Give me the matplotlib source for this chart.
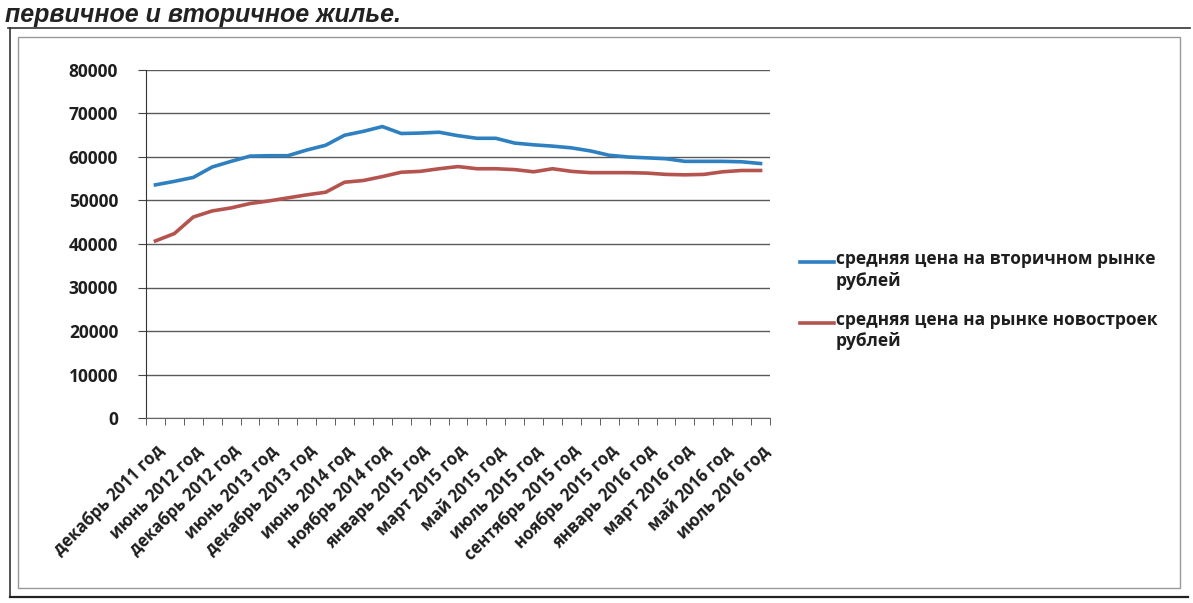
#!/usr/bin/env python3

import numpy as np
import matplotlib
matplotlib.use('Agg')
import matplotlib.pyplot as plt
from matplotlib.lines import Line2D
from matplotlib.patches import Rectangle

plt.rcParams['font.family'] = ['Open Sans', 'DejaVu Sans']

# Categories (every other one is labelled on the axis)
months = ['декабрь 2011 год', 'март 2012 год', 'июнь 2012 год', 'сентябрь 2012 год',
          'декабрь 2012 год', 'март 2013 год', 'июнь 2013 год', 'сентябрь 2013 год',
          'декабрь 2013 год', 'март 2014 год', 'июнь 2014 год', 'сентябрь 2014 год',
          'ноябрь 2014 год', 'декабрь 2014 год', 'январь 2015 год', 'февраль 2015 год',
          'март 2015 год', 'апрель 2015 год', 'май 2015 год', 'июнь 2015 год',
          'июль 2015 год', 'август 2015 год', 'сентябрь 2015 год', 'октябрь 2015 год',
          'ноябрь 2015 год', 'декабрь 2015 год', 'январь 2016 год', 'февраль 2016 год',
          'март 2016 год', 'апрель 2016 год', 'май 2016 год', 'июнь 2016 год',
          'июль 2016 год']

# Average price per m2, rubles
secondary = [53600, 54400, 55300, 57700, 59000, 60200, 60300, 60300, 61600, 62700,
             65000, 65900, 67000, 65400, 65500, 65700, 64900, 64300, 64300, 63200,
             62800, 62500, 62100, 61400, 60400, 60000, 59800, 59600, 59000, 59000,
             59000, 58900, 58500]
new_build = [40700, 42400, 46200, 47600, 48300, 49300, 49900, 50600, 51300, 51900,
             54200, 54600, 55500, 56500, 56700, 57300, 57800, 57300, 57300, 57100,
             56600, 57300, 56700, 56400, 56400, 56400, 56300, 56000, 55900, 56000,
             56600, 56900, 56900]

series_labels = ['средняя цена на вторичном рынке\nрублей',
                 'средняя цена на рынке новостроек\nрублей']
y_ticks = [0, 10000, 20000, 30000, 40000, 50000, 60000, 70000, 80000]

title = 'первичное и вторичное жилье.'

W, H = 1193, 603
fig = plt.figure(figsize=(W / 100, H / 100), dpi=100)

def fx(px):
    return px / W

def fy(py):
    return 1 - py / H

# Page title above the chart frame
fig.text(fx(5), fy(22), title, family='Liberation Sans', fontsize=18,
         fontweight='bold', fontstyle='italic', color='#222222', va='baseline')

# Table cell / chart frame
fig.add_artist(Line2D([fx(8), fx(1190)], [fy(28), fy(28)], color='#333333', lw=1.2))
fig.add_artist(Line2D([fx(10), fx(10)], [fy(28), fy(597)], color='#333333', lw=1.2))
fig.add_artist(Line2D([fx(10), fx(1188)], [fy(597), fy(597)], color='#222222', lw=1.6))
fig.add_artist(Rectangle((fx(18), fy(588)), fx(1180 - 18), (588 - 37) / H,
                         fill=False, edgecolor='#999999', lw=1.0))

ax = fig.add_axes([fx(146), fy(418), fx(770 - 146), (418 - 70) / H])

x = np.arange(len(months))
ax.plot(x, secondary, color='#2f80c0', lw=2.6, solid_joinstyle='round')
ax.plot(x, new_build, color='#b5544f', lw=2.6, solid_joinstyle='round')

ax.set_xlim(-0.5, len(months) - 0.5)
ax.set_ylim(0, 80000)

ax.set_yticks(y_ticks)
ax.set_yticklabels([str(v) for v in y_ticks])
ax.grid(axis='y', color='#5a5a5a', lw=1.0)
ax.set_axisbelow(True)

ax.set_xticks(x[::2])
ax.set_xticklabels(months[::2], rotation=45, ha='right', rotation_mode='anchor')
ax.set_xticks(np.arange(-0.5, len(months)), minor=True)
ax.tick_params(axis='x', which='major', length=0, pad=17)
ax.tick_params(axis='x', which='minor', length=5, direction='out', color='#444444')
ax.tick_params(axis='y', length=6, direction='out', color='#444444', pad=14)

for lab in ax.get_xticklabels():
    lab.set_fontweight('bold')
    lab.set_fontsize(12)
    lab.set_color('#1e1e1e')
for lab in ax.get_yticklabels():
    lab.set_fontweight('bold')
    lab.set_fontsize(12.5)
    lab.set_color('#1e1e1e')

for side in ['top', 'right']:
    ax.spines[side].set_visible(False)
ax.spines['left'].set_color('#333333')
ax.spines['bottom'].set_color('#666666')

# Legend to the right of the plot
colors = ['#2f80c0', '#b5544f']
legend_y = [262, 323]
for lab, col, ly in zip(series_labels, colors, legend_y):
    fig.add_artist(Line2D([fx(800), fx(834)], [fy(ly), fy(ly)], color=col, lw=2.6))
    fig.text(fx(836), fy(ly - 12), lab, fontsize=12.5, fontweight='bold',
             color='#1e1e1e', va='top', ha='left', linespacing=1.25)

fig.savefig('out.png', dpi=100)
